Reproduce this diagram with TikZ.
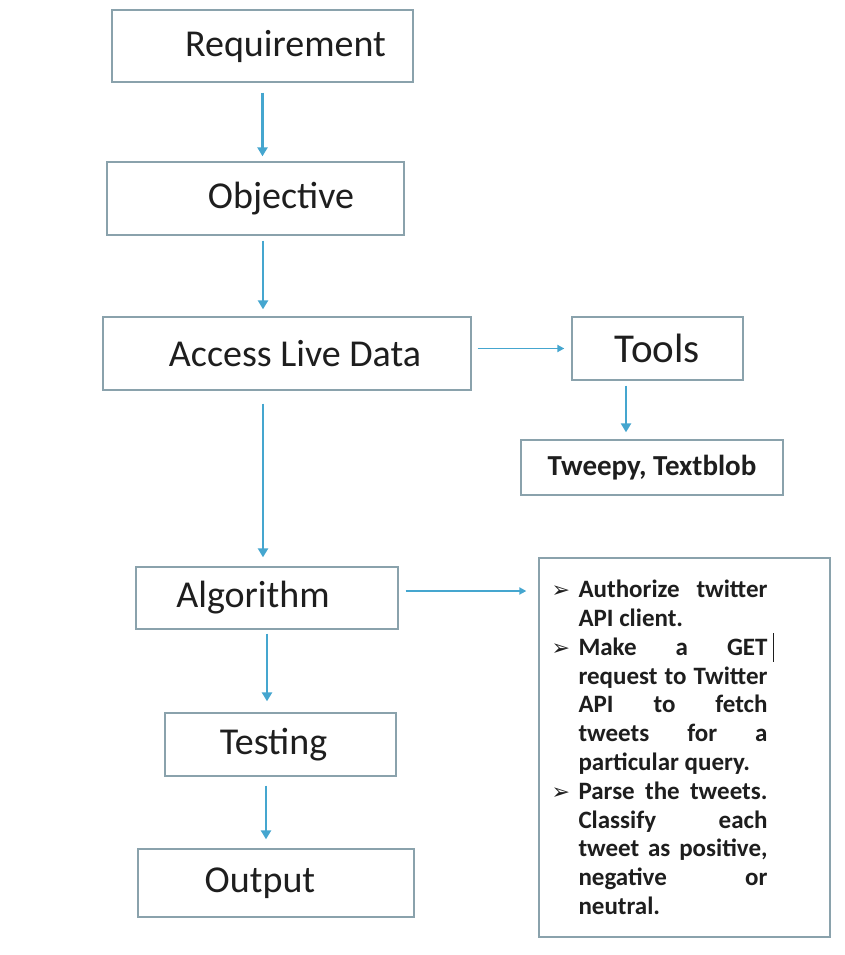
\documentclass[tikz,border=0pt]{standalone}
\usepackage{fontspec}
\setmainfont{Carlito}
\newfontfamily\dingfont{DejaVu Sans}
\usetikzlibrary{arrows.meta}
\definecolor{boxline}{HTML}{8AA2AC}
\definecolor{flow}{HTML}{45A6CF}
\definecolor{ink}{HTML}{1E1E1E}
\newcommand{\pointer}{\makebox[27pt][l]{\dingfont\fontsize{22}{22}\selectfont ➢}}
\begin{document}
\begin{tikzpicture}[x=1pt,y=-1pt,
  stage/.style={draw=boxline,line width=1.3pt,fill=white,text=ink,inner sep=0pt,font=\fontsize{38}{44}\selectfont},
  flowline/.style={draw=flow,line width=2.6pt,-{Triangle[length=9pt,width=10pt]}},
  sideline/.style={draw=flow,line width=1.8pt,-{Triangle[length=7pt,width=7pt]}}]
\useasboundingbox (0,0) rectangle (844,955);
\node[stage,minimum width=301pt,minimum height=72pt] (req) at (262.5,46) {\hspace*{46pt}Requirement};
\node[stage,minimum width=297pt,minimum height=73pt] (obj) at (255.5,198.5) {\hspace*{51pt}Objective};
\node[stage,minimum width=368pt,minimum height=73pt] (acc) at (287,353.5) {\hspace*{16pt}Access Live Data};
\node[stage,minimum width=171pt,minimum height=63pt,font=\fontsize{41}{46}\selectfont] (tools) at (657.5,348.5) {Tools};
\node[stage,minimum width=262pt,minimum height=55pt,font=\bfseries\fontsize{29}{34}\selectfont] (libs) at (652,467.5) {Tweepy, Textblob};
\node[stage,minimum width=262pt,minimum height=62pt] (algo) at (267,598) {Algorithm\hspace*{28pt}};
\node[stage,minimum width=231pt,minimum height=63pt] (test) at (280.5,744.5) {Testing\hspace*{14pt}};
\node[stage,minimum width=276pt,minimum height=68pt] (out) at (276,883) {Output\hspace*{32pt}};
\node[stage,minimum width=291pt,minimum height=379pt,font=\bfseries\fontsize{25}{28.8}\selectfont] (steps) at (684.5,747.5)
  {\parbox[c]{216pt}{\emergencystretch=0pt\hfuzz=20pt%
  \hangindent=27pt\hangafter=1\noindent\pointer Authorize twitter\linebreak API client.\par
  \hangindent=27pt\hangafter=1\noindent\pointer Make a GET\rlap{\hspace{5pt}\rule[-0.25em]{0.9pt}{1.15em}}\linebreak request~to~Twitter\linebreak API to fetch\linebreak tweets for a\linebreak particular~query.\par
  \hangindent=27pt\hangafter=1\noindent\pointer Parse~the~tweets.\linebreak Classify each\linebreak tweet~as~positive,\linebreak negative or\linebreak neutral.\par}\hspace*{50pt}};
\draw[flowline,shorten <=10pt,shorten >=5pt] (req.south) -- (req.south |- obj.north);
\draw[flowline,shorten <=5pt,shorten >=7pt] ([xshift=7.5pt]obj.south) -- ([xshift=7.5pt]obj.south |- acc.north);
\draw[flowline,shorten <=13pt,shorten >=9pt] ([xshift=-24pt]acc.south) -- ([xshift=-24pt]acc.south |- algo.north);
\draw[flowline,shorten <=4pt,shorten >=11pt] (algo.south) -- (algo.south |- test.north);
\draw[flowline,shorten <=9pt,shorten >=9pt] ([xshift=-14.5pt]test.south) -- ([xshift=-14.5pt]test.south |- out.north);
\draw[sideline,shorten <=6pt,shorten >=7pt] (acc.east |- tools.west) -- (tools.west);
\draw[flowline,shorten <=5pt,shorten >=7pt] ([xshift=-31.5pt]tools.south) -- ([xshift=-31.5pt]tools.south |- libs.north);
\draw[sideline,shorten <=7pt,shorten >=12pt] ([yshift=7pt]algo.east) -- ([yshift=7pt]algo.east -| steps.west);
\end{tikzpicture}
\end{document}
